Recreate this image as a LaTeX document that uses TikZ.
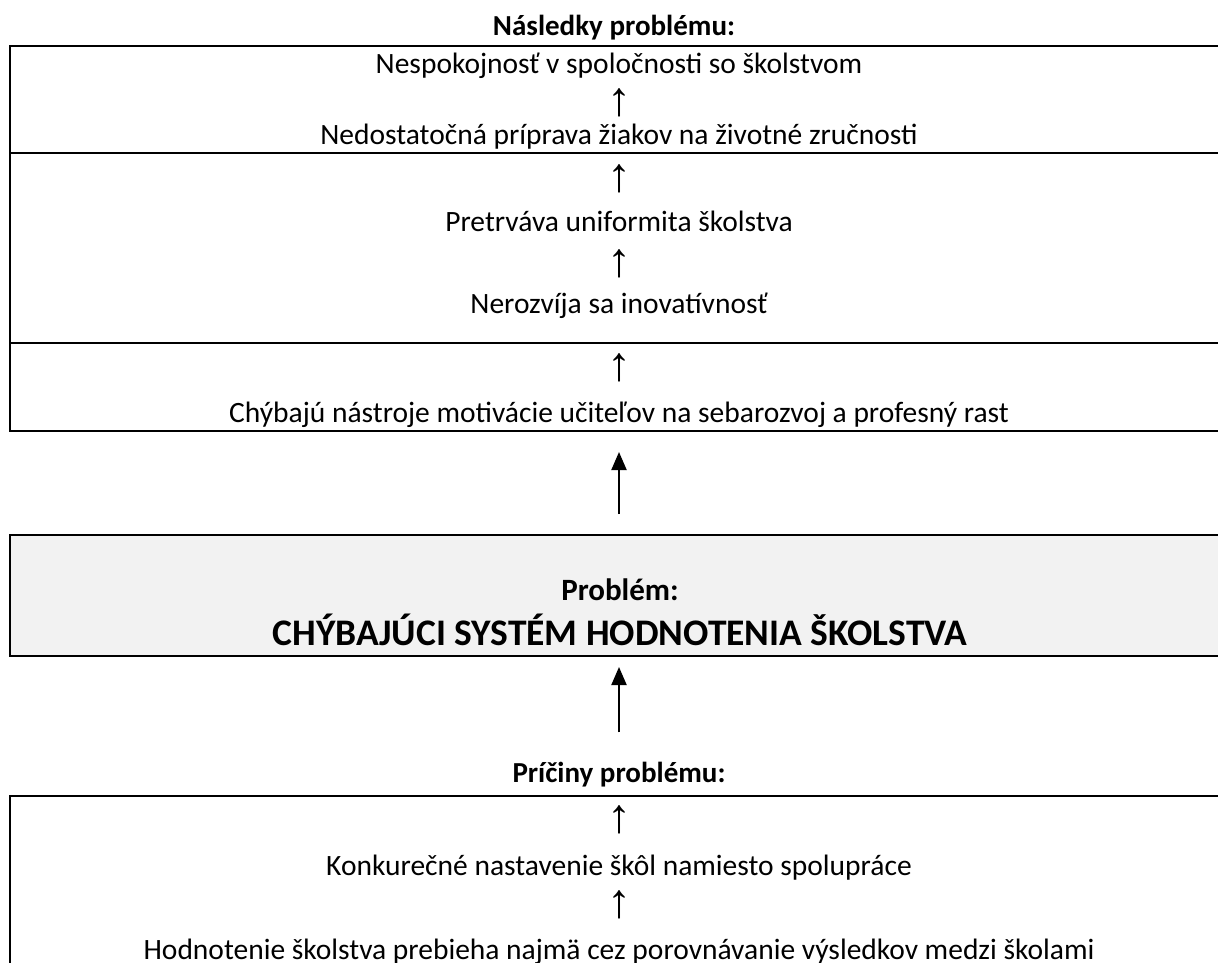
\documentclass[tikz,border=0pt]{standalone}
\usepackage{fontspec}
\setmainfont{Carlito}
\newfontfamily\arrowfont{Liberation Sans}
\usetikzlibrary{arrows.meta}

\definecolor{probgray}{HTML}{F2F2F2}

\begin{document}
\begin{tikzpicture}[x=1pt, y=-1pt,
	txt/.style={anchor=base, inner sep=0pt, font=\fontsize{29.5}{35}\selectfont},
	hdr/.style={anchor=base, inner sep=0pt, font=\fontsize{29}{35}\selectfont\bfseries},
	up/.style={anchor=base, inner sep=0pt, text depth=0pt, font=\fontsize{48}{52}\selectfont\arrowfont},
	frame/.style={draw=black, line width=2pt, outer sep=0pt, anchor=north west},
	bigarrow/.style={-{Triangle[width=15pt,length=18pt]}, line width=2pt}]
	
	\useasboundingbox (0,0) rectangle (1218,963);
	\clip (0,0) rectangle (1218,963);
	
	% boxes
	\node[frame, minimum width=1230pt, minimum height=385pt] (nasl) at (10,46) {};
	\node[frame, fill=probgray, minimum width=1230pt, minimum height=121pt] (prob) at (10,535) {};
	\node[frame, minimum width=1230pt, minimum height=200pt] (pric) at (10,796) {};
	\draw[line width=2pt] (10,153) -- (1240,153);
	\draw[line width=2pt] (10,343) -- (1240,343);
	
	% nasledky
	\node[hdr] (hnasl) at (614,36)  {Následky problému:};
	\node[txt] (n1) at (619,74)  {Nespokojnosť v spoločnosti so školstvom};
	\node[up]  (u1) at (619,116) {↑};
	\node[txt] (n2) at (619,145) {Nedostatočná príprava žiakov na životné zručnosti};
	\node[up]  (u2) at (619,191) {↑};
	\node[txt] (n3) at (619,231) {Pretrváva uniformita školstva};
	\node[up]  (u3) at (619,276) {↑};
	\node[txt] (n4) at (619,313) {Nerozvíja sa inovatívnosť};
	\node[up]  (u4) at (619,380) {↑};
	\node[txt] (n5) at (619,422) {Chýbajú nástroje motivácie učiteľov na sebarozvoj a profesný rast};
	
	% problem
	\node[hdr, font=\fontsize{31}{37}\selectfont\bfseries] (hprob) at (620,600) {Problém:};
	\node[hdr, font=\fontsize{37.5}{44}\selectfont\bfseries] (tprob) at (620,645) {CHÝBAJÚCI SYSTÉM HODNOTENIA ŠKOLSTVA};
	
	% priciny
	\node[hdr] (hpric) at (619,782) {Príčiny problému:};
	\node[up]  (u5) at (619,832) {↑};
	\node[txt] (p1) at (619,875) {Konkurečné nastavenie škôl namiesto spolupráce};
	\node[up]  (u6) at (619,917) {↑};
	\node[txt] (p2) at (619,959) {Hodnotenie školstva prebieha najmä cez porovnávanie výsledkov medzi školami};
	
	\draw[bigarrow, shorten <=21pt, shorten >=21pt] (prob.north -| n5) -- (nasl.south -| n5);
	\draw[bigarrow, shorten <=29pt, shorten >=11pt] (hpric.north) -- (prob.south -| hpric);
	
\end{tikzpicture}
\end{document}
